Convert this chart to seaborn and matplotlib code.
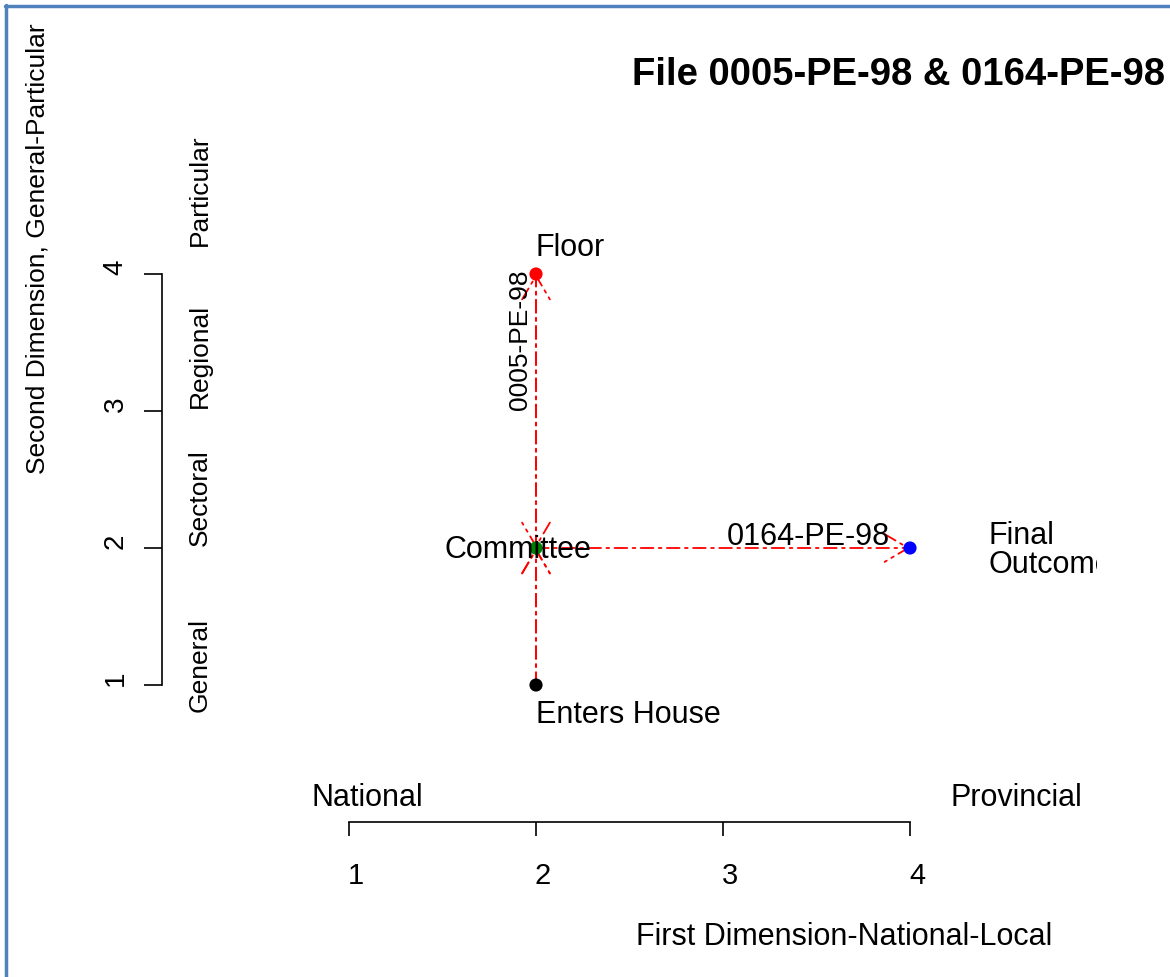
import matplotlib
matplotlib.use("Agg")
import matplotlib.pyplot as plt
import matplotlib.transforms as mtransforms
from matplotlib.lines import Line2D
import seaborn as sns
import pandas as pd

# ---- data ----
stage_names = ["Enters House", "Committee", "Floor", "Final Outcome"]
stage_x = [2, 2, 2, 4]
stage_y = [1, 2, 4, 2]
stage_colors = ["black", "green", "red", "blue"]

file_0005_x = [2, 2, 2, 2]
file_0005_y = [1, 2, 4, 2]
file_0164_x = [2, 2, 4]
file_0164_y = [1, 2, 2]

x_ticks = [1, 2, 3, 4]
y_ticks = [1, 2, 3, 4]
y_categories = ["General", "Sectoral", "Regional", "Particular"]
x_categories = ["National", "Provincial"]
title = "File 0005-PE-98 & 0164-PE-98"

# ---- style ----
sns.set_style("white")
plt.rcParams['font.family'] = ['Liberation Sans', 'DejaVu Sans']
plt.rcParams.update({"text.color": "black", "axes.labelcolor": "black",
                     "xtick.color": "black", "ytick.color": "black",
                     "xtick.bottom": True, "ytick.left": True})

W, H = 1170, 977
fig = plt.figure(figsize=(W / 100, H / 100), dpi=100)
fig.patch.set_facecolor("white")

# plot region in pixel coordinates
L, R, T, B = 162, 1097, 137, 822
ax = fig.add_axes([L / W, 1 - B / H, (R - L) / W, (B - T) / H])
ax.set_xlim(0, 5)
ax.set_ylim(0, 5)
ax.patch.set_alpha(0)

def fx(px):
    return px / W

def fy(py):
    return 1 - py / H

# arrows for each file
def draw_path(xs, ys):
    for i in range(len(xs) - 1):
        ax.annotate("", xy=(xs[i + 1], ys[i + 1]), xytext=(xs[i], ys[i]),
                    arrowprops=dict(arrowstyle="->,head_length=0.85,head_width=0.5",
                                    color="red", lw=1.3,
                                    linestyle=(0, (7, 3, 1.5, 3)),
                                    shrinkA=0, shrinkB=0, mutation_scale=20),
                    annotation_clip=False, zorder=2)

draw_path(file_0005_x, file_0005_y)
draw_path(file_0164_x, file_0164_y)

# stage points
df = pd.DataFrame({"x": stage_x, "y": stage_y, "stage": stage_names})
sns.scatterplot(data=df, x="x", y="y", hue="stage",
                palette=dict(zip(stage_names, stage_colors)),
                s=90, edgecolor="none", legend=False, ax=ax, zorder=3)

# point labels
fs = 22
ax.text(2.0, 4.19, "Floor", fontsize=fs, ha="left", va="center")
ax.text(1.906, 1.985, "Committee", fontsize=fs, ha="center", va="center", zorder=4)
ax.text(2.0, 0.78, "Enters House", fontsize=fs, ha="left", va="center")
ax.text(4.42, 1.98, "Final\nOutcome", fontsize=fs, ha="left", va="center",
        linespacing=0.95, clip_on=True)
ax.text(1.913, 3.52, "0005-PE-98", fontsize=19, rotation=90, ha="center", va="center")
ax.text(3.455, 2.08, "0164-PE-98", fontsize=fs, ha="center", va="center")

# axes (R-style detached)
for s in ["top", "right"]:
    ax.spines[s].set_visible(False)
ax.spines["left"].set_bounds(1, 4)
ax.spines["bottom"].set_bounds(1, 4)
for s in ["left", "bottom"]:
    ax.spines[s].set_linewidth(1.2)
    ax.spines[s].set_color("black")
ax.set_xticks(x_ticks)
ax.set_yticks(y_ticks)
ax.set_xticklabels([str(v) for v in x_ticks], fontsize=21)
ax.set_yticklabels([str(v) for v in y_ticks], fontsize=20, rotation=90,
                   va="center", ha="right")
ax.tick_params(axis="x", bottom=True, direction="out", length=10, width=1.2, pad=19,
               colors="black")
ax.tick_params(axis="y", left=True, direction="out", length=13, width=1.2, pad=11,
               colors="black")
for lab in ax.get_xticklabels():
    lab.set_transform(lab.get_transform() +
                      mtransforms.ScaledTranslation(0.07, 0, fig.dpi_scale_trans))
for lab in ax.get_yticklabels():
    lab.set_transform(lab.get_transform() +
                      mtransforms.ScaledTranslation(0, 0.07, fig.dpi_scale_trans))
ax.set_xlabel("")
ax.set_ylabel("")
ax.grid(False)

# category labels
y_cat_pos = [1.146, 2.37, 3.40, 4.61]
for lab, yp in zip(y_categories, y_cat_pos):
    ax.text(0.2, yp, lab, fontsize=19, rotation=90, ha="center", va="center")
ax.text(1.10, 0.175, x_categories[0], fontsize=fs, ha="center", va="center")
ax.text(4.567, 0.175, x_categories[1], fontsize=fs, ha="center", va="center")

# titles
fig.text(fx(898), fy(75), title, fontsize=27.5, fontweight="bold", ha="center",
         va="center")
fig.text(fx(844), fy(937), "First Dimension-National-Local", fontsize=22,
         ha="center", va="center")
fig.text(fx(38), fy(249), "Second Dimension, General-Particular", fontsize=19,
         rotation=90, ha="center", va="center")

# frame border (left and top)
bc = "#4F81BD"
fig.add_artist(Line2D([fx(6), fx(6)], [fy(5), 0], color=bc, lw=2.5))
fig.add_artist(Line2D([fx(5), 1], [fy(6), fy(6)], color=bc, lw=2.5))

fig.savefig("out.png", dpi=100)
